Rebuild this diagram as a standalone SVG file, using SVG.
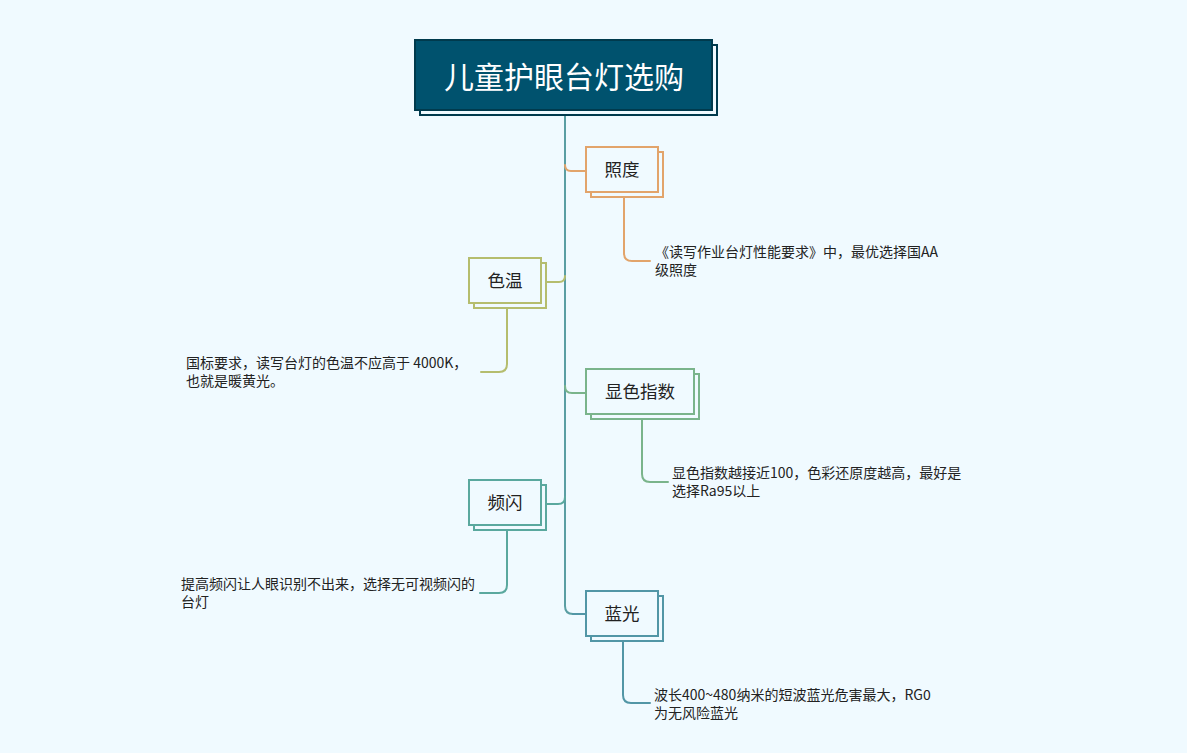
<svg xmlns="http://www.w3.org/2000/svg" width="1187" height="753" viewBox="0 0 1187 753">
<style>
.bg{fill:#f0faff}
.node{fill:#f0faff;stroke-width:2}
.lbl{font-family:"Noto Sans CJK SC","Noto Sans",sans-serif;font-size:17.5px;fill:#222;text-anchor:middle;dominant-baseline:central}
.note{font-family:"Noto Sans CJK SC","Noto Sans",sans-serif;font-size:14px;fill:#222}
.ln{fill:none;stroke-width:2;stroke-linecap:round}
.o{stroke:#e2a46b}.y{stroke:#b5bd6e}.g{stroke:#7ab48b}.t{stroke:#5aa89e}.b{stroke:#5296a6}
</style>
<rect class="bg" x="0" y="0" width="1187" height="753"/>
<g id="connectors">
<path class="ln" d="M565,111 V606 Q565,614 573,614 H586" stroke="#5a9ea3" stroke-width="2.5" fill="none"/>
<path class="ln o" d="M565,165 Q565,171 571,171 H586"/>
<path class="ln y" d="M565,276 Q565,282 559,282 H546"/>
<path class="ln g" d="M565,386 Q565,393 572,393 H586"/>
<path class="ln t" d="M565,497 Q565,504 558,504 H546"/>
<path class="ln b" d="M573,614 H586"/>
<path class="ln o" d="M624,197 V253 Q624,261 632,261 H650"/>
<path class="ln y" d="M507,308 V364 Q507,372 499,372 H481"/>
<path class="ln g" d="M642,419 V474 Q642,482 650,482 H668"/>
<path class="ln t" d="M507,530 V585 Q507,593 499,593 H480"/>
<path class="ln b" d="M623,641 V695 Q623,703 631,703 H650"/>
</g>
<g id="title">
<rect x="420" y="45" width="297" height="70" fill="#f0faff" stroke="#003a4d" stroke-width="2"/>
<rect x="415" y="40" width="297" height="70" fill="#00526e" stroke="#003a4d" stroke-width="2"/>
<text x="564" y="75" font-family="Noto Sans CJK SC,Noto Sans,sans-serif" font-size="30" fill="#ffffff" text-anchor="middle" dominant-baseline="central">儿童护眼台灯选购</text>
</g>
<g id="node-zhaodu">
<rect class="node o" x="591" y="152" width="72" height="45"/>
<rect class="node o" x="586" y="147" width="72" height="45"/>
<text class="lbl" x="622" y="168">照度</text>
</g>
<g id="note-zhaodu">
<text class="note" x="655" y="257">《读写作业台灯性能要求》中，最优选择国AA</text>
<text class="note" x="655" y="275">级照度</text>
</g>
<g id="node-sewen">
<rect class="node y" x="474" y="263" width="72" height="45"/>
<rect class="node y" x="469" y="258" width="72" height="45"/>
<text class="lbl" x="505" y="279">色温</text>
</g>
<g id="note-sewen">
<text class="note" x="186" y="368">国标要求，读写台灯的色温不应高于 4000K，</text>
<text class="note" x="186" y="386">也就是暖黄光。</text>
</g>
<g id="node-xianse">
<rect class="node g" x="591" y="374" width="108" height="45"/>
<rect class="node g" x="586" y="369" width="108" height="45"/>
<text class="lbl" x="640" y="390">显色指数</text>
</g>
<g id="note-xianse">
<text class="note" x="672" y="478">显色指数越接近100，色彩还原度越高，最好是</text>
<text class="note" x="672" y="496">选择Ra95以上</text>
</g>
<g id="node-pinshan">
<rect class="node t" x="474" y="485" width="72" height="45"/>
<rect class="node t" x="469" y="480" width="72" height="45"/>
<text class="lbl" x="505" y="501">频闪</text>
</g>
<g id="note-pinshan">
<text class="note" x="181" y="589">提高频闪让人眼识别不出来，选择无可视频闪的</text>
<text class="note" x="181" y="607">台灯</text>
</g>
<g id="node-languang">
<rect class="node b" x="591" y="596" width="72" height="45"/>
<rect class="node b" x="586" y="591" width="72" height="45"/>
<text class="lbl" x="622" y="612">蓝光</text>
</g>
<g id="note-languang">
<text class="note" x="654" y="700">波长400~480纳米的短波蓝光危害最大，RG0</text>
<text class="note" x="654" y="718">为无风险蓝光</text>
</g>
</svg>
